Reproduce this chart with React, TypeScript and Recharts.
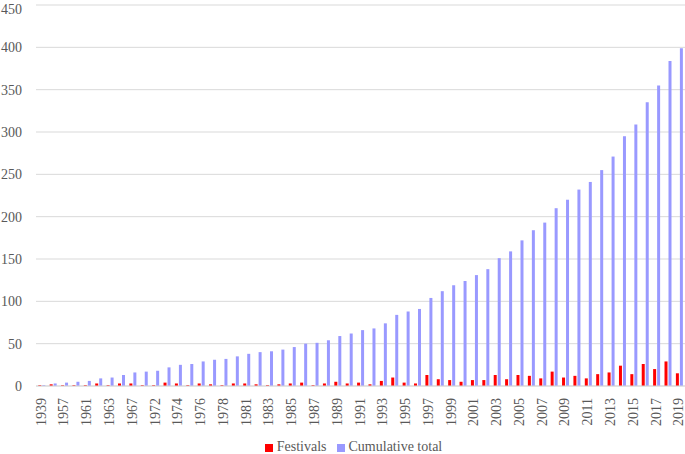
import { Bar, BarChart, CartesianGrid, Legend, XAxis, YAxis } from "recharts";

// years that had at least one new festival (unlabelled ones are estimates)
const years = [
  "1939", "1947", "1957", "1959", "1961", "1962", "1963", "1965", "1967", "1970",
  "1972", "1973", "1974", "1975", "1976", "1977", "1978", "1980", "1981", "1982",
  "1983", "1984", "1985", "1986", "1987", "1988", "1989", "1990", "1991", "1992",
  "1993", "1994", "1995", "1996", "1997", "1998", "1999", "2000", "2001", "2002",
  "2003", "2004", "2005", "2006", "2007", "2008", "2009", "2010", "2011", "2012",
  "2013", "2014", "2015", "2016", "2017", "2018", "2019",
];

const festivals = [
  1, 2, 1, 1, 1, 3, 1, 3, 3, 1,
  1, 4, 3, 1, 3, 2, 1, 3, 3, 2,
  1, 2, 3, 4, 1, 3, 5, 3, 4, 2,
  6, 10, 4, 3, 13, 8, 7, 5, 7, 7,
  13, 8, 13, 12, 9, 17, 10, 12, 9, 14,
  16, 24, 14, 26, 20, 29, 15,
];

const cumulative = [
  1, 3, 4, 5, 6, 9, 10, 13, 16, 17,
  18, 22, 25, 26, 29, 31, 32, 35, 38, 40,
  41, 43, 46, 50, 51, 54, 59, 62, 66, 68,
  74, 84, 88, 91, 104, 112, 119, 124, 131, 138,
  151, 159, 172, 184, 193, 210, 220, 232, 241, 255,
  271, 295, 309, 335, 355, 384, 399,
];

const yTicks = [0, 50, 100, 150, 200, 250, 300, 350, 400, 450];

const data = years.map((year, i) => ({
  year,
  festivals: festivals[i],
  cumulative: cumulative[i],
}));

const FONT = "Liberation Serif";
const TEXT = "#595959";

// make sure nothing overrides the serif face used by the original
const css = `
.chart-root, .chart-root text, .chart-root span, .chart-root li {
  font-family: "Liberation Serif", "Times New Roman", serif !important;
}
`;

function YearTick(props: any) {
  const { x, y, payload } = props;
  return (
    <text
      x={0}
      y={0}
      transform={`translate(${x + 4},${y + 4}) rotate(-90)`}
      textAnchor="end"
      fontFamily={FONT}
      fontSize={14}
      fill={TEXT}
    >
      {payload.value}
    </text>
  );
}

function ValueTick(props: any) {
  const { x, y, payload } = props;
  return (
    <text x={x} y={y} dy={5} textAnchor="end" fontFamily={FONT} fontSize={14} fill={TEXT}>
      {payload.value}
    </text>
  );
}

export default function App() {
  return (
    <div className="chart-root" style={{ position: "absolute", left: 0, top: 0 }}>
      <style>{css}</style>
      <BarChart
        width={685}
        height={454}
        data={data}
        margin={{ top: 5, right: 0, left: 0, bottom: 0 }}
        barCategoryGap="20%"
        barGap={1}
      >
        <CartesianGrid vertical={false} stroke="#d9d9d9" />
        <XAxis
          dataKey="year"
          interval={1}
          tickLine={false}
          axisLine={{ stroke: "#d9d9d9" }}
          height={52}
          tick={<YearTick />}
        />
        <YAxis
          domain={[0, 450]}
          ticks={yTicks}
          width={36}
          axisLine={false}
          tickLine={false}
          tickSize={0}
          tickMargin={14}
          tick={<ValueTick />}
        />
        <Legend
          verticalAlign="bottom"
          iconType="square"
          iconSize={8}
          itemSorter={(item: any) => (item.value === "Festivals" ? 0 : 1)}
          wrapperStyle={{ fontSize: 14, bottom: -1, left: 16 }}
          formatter={(value) => <span style={{ color: TEXT }}>{value}</span>}
        />
        <Bar dataKey="festivals" name="Festivals" fill="#ff0000" isAnimationActive={false} />
        <Bar dataKey="cumulative" name="Cumulative total" fill="#9999ff" isAnimationActive={false} />
      </BarChart>
    </div>
  );
}
